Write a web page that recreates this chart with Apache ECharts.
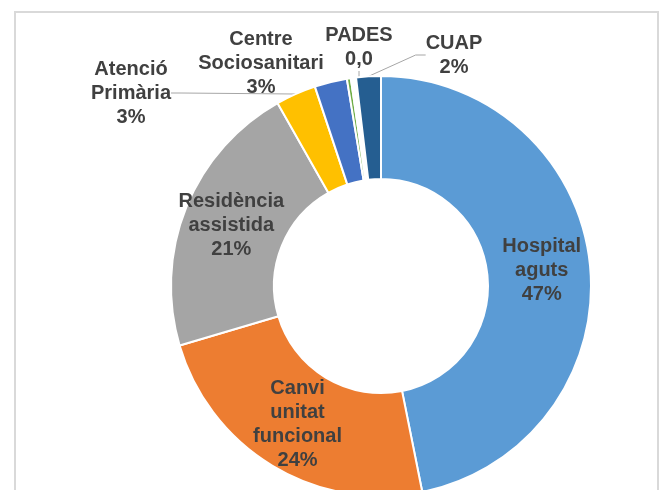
<!DOCTYPE html>
<html>
<head>
<meta charset="utf-8">
<script src="https://cdn.jsdelivr.net/npm/echarts@6/dist/echarts.min.js"></script>
<style>
  html, body { margin: 0; padding: 0; background: #fff; }
  #chart { width: 662px; height: 490px; }
</style>
</head>
<body>
<div id="chart"></div>
<script>
// slices in clockwise order from 12 o'clock
const categories = ['Hospital aguts', 'Canvi unitat funcional', 'Residència assistida', 'Atenció Primària', 'Centre Sociosanitari', 'PADES', '', 'CUAP'];
const shares = [46.9, 23.6, 21.4, 3.1, 2.5, 0.3, 0.4, 1.9];
const shareLabels = ['47%', '24%', '21%', '3%', '3%', '0,0', '', '2%'];
const nameLines = ['Hospital\naguts', 'Canvi\nunitat\nfuncional', 'Residència\nassistida', 'Atenció\nPrimària', 'Centre\nSociosanitari', 'PADES', '', 'CUAP'];
const colors = ['#5b9bd5', '#ed7d31', '#a5a5a5', '#ffc000', '#4472c4', '#70ad47', '#ffffff', '#255e91'];

// which labels sit outside the ring and where their text is centred
const outsideLabels = { 3: [131, 93], 4: [261, 63], 5: [359, 47], 7: [454, 55] };
const noLeader = [4];

const chart = echarts.init(document.getElementById('chart'));

const data = categories.map((name, i) => {
  const outside = outsideLabels[i] !== undefined;
  return {
    name: name,
    value: shares[i],
    itemStyle: { color: colors[i] },
    label: {
      show: shareLabels[i] !== '',
      position: outside ? 'outside' : 'inside'
    },
    labelLine: { show: outside && noLeader.indexOf(i) < 0 }
  };
});

chart.setOption({
  animation: false,
  graphic: [{
    type: 'rect',
    shape: { x: 15, y: 12, width: 643, height: 500 },
    style: { fill: 'none', stroke: '#d9d9d9', lineWidth: 2 },
    silent: true
  }],
  series: [{
    type: 'pie',
    center: [381, 286],
    radius: [107, 210],
    startAngle: 90,
    clockwise: true,
    avoidLabelOverlap: false,
    emphasis: { disabled: true },
    itemStyle: { borderColor: '#ffffff', borderWidth: 2 },
    label: {
      formatter: (p) => nameLines[p.dataIndex] + '\n' + shareLabels[p.dataIndex],
      fontFamily: 'Liberation Sans, Arial, sans-serif',
      fontWeight: 'bold',
      fontSize: 20,
      lineHeight: 24,
      color: '#404040',
      align: 'center'
    },
    labelLine: {
      lineStyle: { color: '#a6a6a6', width: 1 },
      length: 10,
      length2: 10
    },
    labelLayout: (params) => {
      const pos = outsideLabels[params.dataIndex];
      if (!pos) return {};
      return { x: pos[0], y: pos[1], align: 'center', verticalAlign: 'middle' };
    },
    data: data
  }]
});
</script>
</body>
</html>
